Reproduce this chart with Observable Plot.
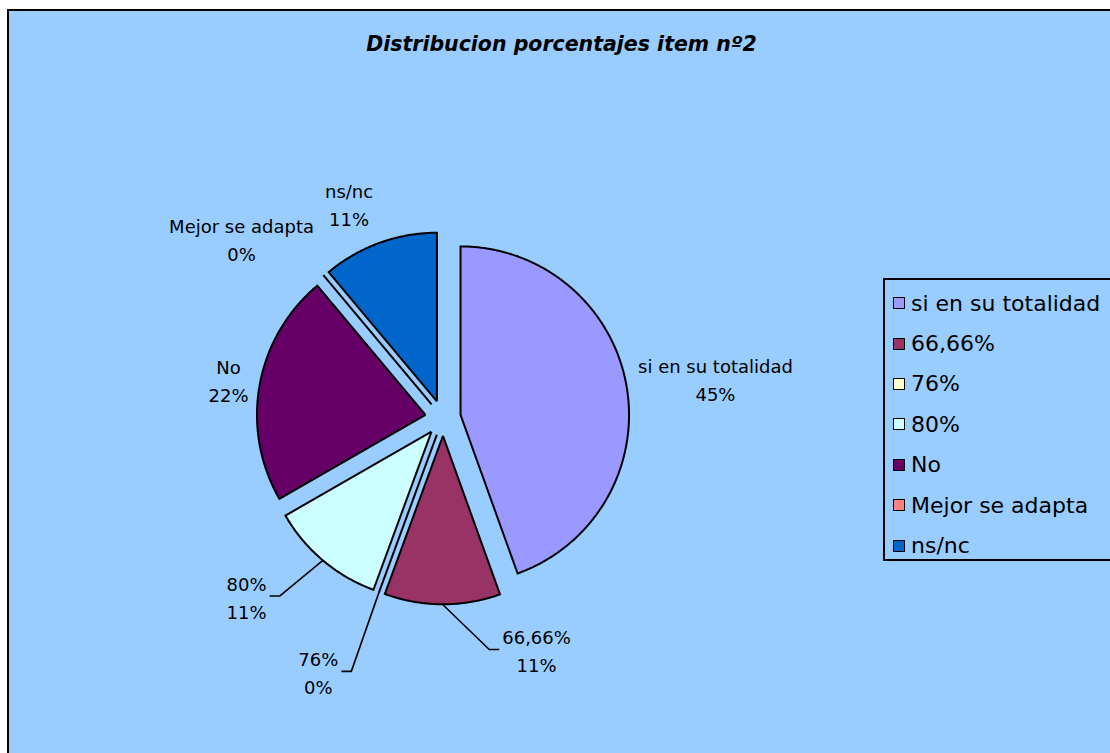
<!DOCTYPE html>
<html><head><meta charset="utf-8">
<script src="https://cdn.jsdelivr.net/npm/d3@7"></script>
<script src="https://cdn.jsdelivr.net/npm/@observablehq/plot@0.6"></script>
<style>
body{margin:0;background:#fff;}
#wrap{position:relative;width:1110px;height:753px;overflow:hidden;font-family:"DejaVu Sans",sans-serif;color:#000;}
#panel{position:absolute;left:7px;top:9px;width:1200px;height:800px;background:#99CCFF;border:2px solid #000;}
#title{position:absolute;left:0;width:1123px;top:34px;text-align:center;font-weight:bold;font-style:italic;font-size:20.5px;line-height:20.5px;white-space:nowrap;}
#chart{position:absolute;left:0;top:0;}
#legend{position:absolute;left:883px;top:278px;width:300px;height:283px;border:2px solid #000;background:#99CCFF;box-sizing:border-box;padding-top:3px;}
.row{height:40.4px;display:flex;align-items:center;font-size:22px;white-space:nowrap;}
.sw{width:10px;height:10px;border:1.8px solid #000;margin-left:8px;margin-right:6px;flex:none;}
</style></head><body>
<div id="wrap"><div id="panel"></div><div id="title"></div><div id="chart"></div><div id="legend"></div></div>
<script>
// ---- data ----
const categories = ["si en su totalidad", "66,66%", "76%", "80%", "No", "Mejor se adapta", "ns/nc"];
const shares = [44.5, 11.1, 0, 11.1, 22.2, 0, 11.1];
const colors = ["#9999FF", "#993366", "#FFFFCC", "#CCFFFF", "#660066", "#FF8080", "#0066CC"];
const titleText = "Distribucion porcentajes item nº2";

// ---- layout ----
const W = 1110, H = 753;
const cx = 442.5, cy = 417.5, R = 168.5, explode = 17.8;
// label placement (polar, degrees clockwise from 12 o'clock, distance from pie centre)
const labelAngle = [81.75, 158, 206.2, 227.8, 280.2, 311.8, 336.4];
const labelDist = [275.3, 249.7, 282.4, 265.1, 217.9, 270.2, 234.6];
const hasLeader = [false, true, true, true, false, false, false];
const labelFont = 18;

document.getElementById("title").textContent = titleText;

const arcs = d3.pie().sort(null).value(d => d)(shares);
const rad = Math.PI / 180;

const slices = arcs.map((a, i) => {
  const mid = (a.startAngle + a.endAngle) / 2;
  const ox = explode * Math.sin(mid), oy = -explode * Math.cos(mid);
  const n = Math.max(1, Math.ceil((a.endAngle - a.startAngle) / (0.5 * rad)));
  const pts = [{x: ox, y: oy}];
  for (let k = 0; k <= n; k++) {
    const t = a.startAngle + (a.endAngle - a.startAngle) * k / n;
    pts.push({x: ox + R * Math.sin(t), y: oy - R * Math.cos(t)});
  }
  pts.push({x: ox, y: oy});
  return {pts, mid, ox, oy, i};
});

const ctx = document.createElement("canvas").getContext("2d");
ctx.font = `${labelFont}px "DejaVu Sans"`;

const labels = categories.map((c, i) => {
  const ang = labelAngle[i] * rad;
  const pct = Math.round(shares[i]) + "%";
  return {
    x: labelDist[i] * Math.sin(ang),
    y: -labelDist[i] * Math.cos(ang),
    text: c + "\n" + pct,
    w: Math.max(ctx.measureText(c).width, ctx.measureText(pct).width),
    i
  };
});

const leaders = [];
labels.forEach(l => {
  if (!hasLeader[l.i]) return;
  const s = slices[l.i];
  const ax = (explode + R) * Math.sin(s.mid), ay = -(explode + R) * Math.cos(s.mid);
  const right = l.x > ax;
  const ex2 = right ? l.x - l.w / 2 - 3 : l.x + l.w / 2 + 3;
  const ex1 = right ? ex2 - 10 : ex2 + 10;
  leaders.push({id: l.i, x: ax, y: ay}, {id: l.i, x: ex1, y: l.y}, {id: l.i, x: ex2, y: l.y});
});

const marks = slices.map(s => Plot.line(s.pts, {
  x: "x", y: "y", fill: colors[s.i], stroke: "#000", strokeWidth: 2,
  strokeLinejoin: "miter", strokeMiterlimit: 4, strokeLinecap: "butt"
}));
marks.push(Plot.line(leaders, {x: "x", y: "y", z: "id", stroke: "#000", strokeWidth: 1.6, strokeLinejoin: "miter", strokeLinecap: "butt"}));
marks.push(Plot.text(labels, {
  x: "x", y: "y", text: "text", fontSize: labelFont, fontFamily: "DejaVu Sans",
  fill: "#000", textAnchor: "middle", lineAnchor: "middle", lineHeight: 28 / labelFont
}));

const chart = Plot.plot({
  width: W, height: H,
  margin: 0,
  x: {type: "linear", domain: [-cx, W - cx], range: [0, W], axis: null},
  y: {type: "linear", domain: [-cy, H - cy], range: [0, H], axis: null},
  style: {background: "transparent", overflow: "visible"},
  marks
});
document.getElementById("chart").appendChild(chart);

const legend = document.getElementById("legend");
categories.forEach((c, i) => {
  const row = document.createElement("div");
  row.className = "row";
  const sw = document.createElement("div");
  sw.className = "sw";
  sw.style.background = colors[i];
  const tx = document.createElement("span");
  tx.textContent = c;
  row.appendChild(sw);
  row.appendChild(tx);
  legend.appendChild(row);
});
</script>
</body></html>
